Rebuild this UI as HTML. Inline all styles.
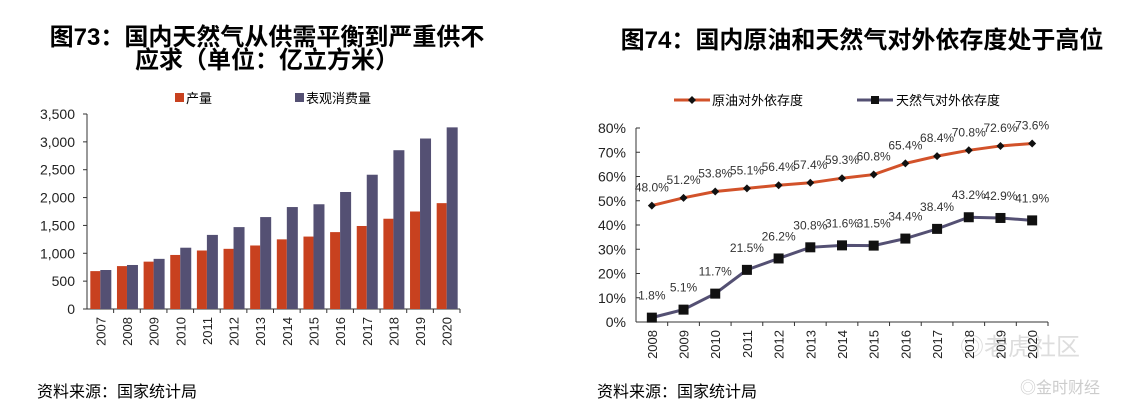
<!DOCTYPE html>
<html><head><meta charset="utf-8"><style>
body{margin:0;background:#fff;width:1137px;height:408px;overflow:hidden;font-family:"Liberation Sans","Noto Sans CJK SC",sans-serif;}
svg text{font-family:"Liberation Sans","Noto Sans CJK SC",sans-serif;}
</style></head><body>
<svg id="s" width="1137" height="408">
<text x="267" y="45" text-anchor="middle" font-size="24" font-weight="bold">图73：国内天然气从供需平衡到严重供不</text>
<text x="267" y="68" text-anchor="middle" font-size="24" font-weight="bold">应求（单位：亿立方米）</text>
<text x="862" y="48" text-anchor="middle" font-size="24" font-weight="bold">图74：国内原油和天然气对外依存度处于高位</text>
<text x="37" y="397" font-size="16">资料来源：国家统计局</text>
<text x="597" y="397" font-size="16">资料来源：国家统计局</text>
<text x="960" y="355" font-size="24" fill="#ddd">◎老虎社区</text>
<text x="1020" y="393" font-size="16" fill="#ccc">◎金时财经</text>
<g id="L"></g><g id="R"></g>
</svg>
<script>
const years1=['2007','2008','2009','2010','2011','2012','2013','2014','2015','2016','2017','2018','2019','2020'];
const production=[680,770,850,970,1050,1080,1140,1250,1300,1380,1490,1620,1750,1900];
const consumption=[700,790,900,1100,1330,1470,1650,1830,1880,2100,2410,2850,3060,3260];
const yTicks1=[0,500,1000,1500,2000,2500,3000,3500];
const years2=['2008','2009','2010','2011','2012','2013','2014','2015','2016','2017','2018','2019','2020'];
const oil=[48.0,51.2,53.8,55.1,56.4,57.4,59.3,60.8,65.4,68.4,70.8,72.6,73.6];
const gas=[1.8,5.1,11.7,21.5,26.2,30.8,31.6,31.5,34.4,38.4,43.2,42.9,41.9];
const yTicks2=[0,10,20,30,40,50,60,70,80];
const NS='http://www.w3.org/2000/svg';
function mk(p,t,a,txt){const e=document.createElementNS(NS,t);for(const k in a)e.setAttribute(k,a[k]);if(txt!==undefined)e.textContent=txt;p.appendChild(e);return e;}
// left
const L=document.getElementById('L');
const x0=87,x1=460,yb=309,yt=114;
const ys1=v=>yb-(v/3500)*(yb-yt);
const bw=(x1-x0)/years1.length;
let e=mk(L,'line',{x1:x0,y1:yt,x2:x0,y2:yb,stroke:'#333'});

e=mk(L,'line',{x1:x0,y1:yb,x2:x1,y2:yb,stroke:'#333'});

yTicks1.forEach(v=>{e=mk(L,'text',{x:x0-12,y:ys1(v)+5,'text-anchor':'end','font-size':14,fill:'#222'},v.toLocaleString('en-US'));

mk(L,'line',{x1:x0-4,y1:ys1(v),x2:x0,y2:ys1(v),stroke:'#333'});});
years1.forEach((y,i)=>{const cx=x0+bw*(i+0.5);
e=mk(L,'rect',{x:cx-10,y:ys1(production[i]),width:10,height:yb-ys1(production[i]),fill:'#c8411f'});

e=mk(L,'rect',{x:cx,y:ys1(consumption[i]),width:11,height:yb-ys1(consumption[i]),fill:'#545073'});

mk(L,'line',{x1:x0+bw*(i+1),y1:yb,x2:x0+bw*(i+1),y2:yb+4,stroke:'#333'});
e=mk(L,'text',{transform:`translate(${cx+5},${yb+8}) rotate(-90)`,'text-anchor':'end','font-size':13,fill:'#222'},y);
});
e=mk(L,'rect',{x:175,y:93,width:9,height:9,fill:'#c8411f'});
e=mk(L,'text',{x:186,y:103,'font-size':13},'产量');
e=mk(L,'rect',{x:295,y:93,width:9,height:9,fill:'#545073'});
e=mk(L,'text',{x:306,y:103,'font-size':13},'表观消费量');
// right
const R=document.getElementById('R');
const X0=636,X1=1048,Yb=322,Yt=128;
const ys2=v=>Yb-(v/80)*(Yb-Yt);
const cw=(X1-X0)/years2.length;
const xc=i=>X0+cw*(i+0.5);
e=mk(R,'line',{x1:X0,y1:Yt,x2:X0,y2:Yb,stroke:'#333'});
e=mk(R,'line',{x1:X0,y1:Yb,x2:X1,y2:Yb,stroke:'#333'});
yTicks2.forEach(v=>{e=mk(R,'text',{x:X0-10,y:ys2(v)+5,'text-anchor':'end','font-size':14,fill:'#222'},v+'%');

mk(R,'line',{x1:X0,y1:ys2(v),x2:X0+4,y2:ys2(v),stroke:'#333'});});
years2.forEach((y,i)=>{mk(R,'line',{x1:X0+cw*(i+1),y1:Yb,x2:X0+cw*(i+1),y2:Yb+4,stroke:'#333'});
e=mk(R,'text',{transform:`translate(${xc(i)+5},${Yb+8}) rotate(-90)`,'text-anchor':'end','font-size':13,fill:'#222'},y);
});
e=mk(R,'polyline',{points:oil.map((v,i)=>xc(i)+','+ys2(v)).join(' '),fill:'none',stroke:'#d2522a','stroke-width':3});

e=mk(R,'polyline',{points:gas.map((v,i)=>xc(i)+','+ys2(v)).join(' '),fill:'none',stroke:'#545073','stroke-width':3});

oil.forEach((v,i)=>{const x=xc(i),y=ys2(v);
e=mk(R,'polygon',{points:`${x},${y-4} ${x+4},${y} ${x},${y+4} ${x-4},${y}`,fill:'#111'});

e=mk(R,'text',{x:x,y:y-14,'text-anchor':'middle','font-size':12,fill:'#333'},v.toFixed(1)+'%');
});
gas.forEach((v,i)=>{const x=xc(i),y=ys2(v);
e=mk(R,'rect',{x:x-5,y:y-5,width:10,height:10,fill:'#111'});

e=mk(R,'text',{x:x,y:y-18,'text-anchor':'middle','font-size':12,fill:'#333'},v.toFixed(1)+'%');
});
e=mk(R,'line',{x1:674,y1:100,x2:710,y2:100,stroke:'#d2522a','stroke-width':3});
mk(R,'polygon',{points:'692,96 696,100 692,104 688,100',fill:'#111'});
e=mk(R,'text',{x:712,y:105,'font-size':13},'原油对外依存度');
e=mk(R,'line',{x1:857,y1:100,x2:893,y2:100,stroke:'#545073','stroke-width':3});
mk(R,'rect',{x:871,y:96,width:8,height:8,fill:'#111'});
e=mk(R,'text',{x:896,y:105,'font-size':13},'天然气对外依存度');
</script>
</body></html>
